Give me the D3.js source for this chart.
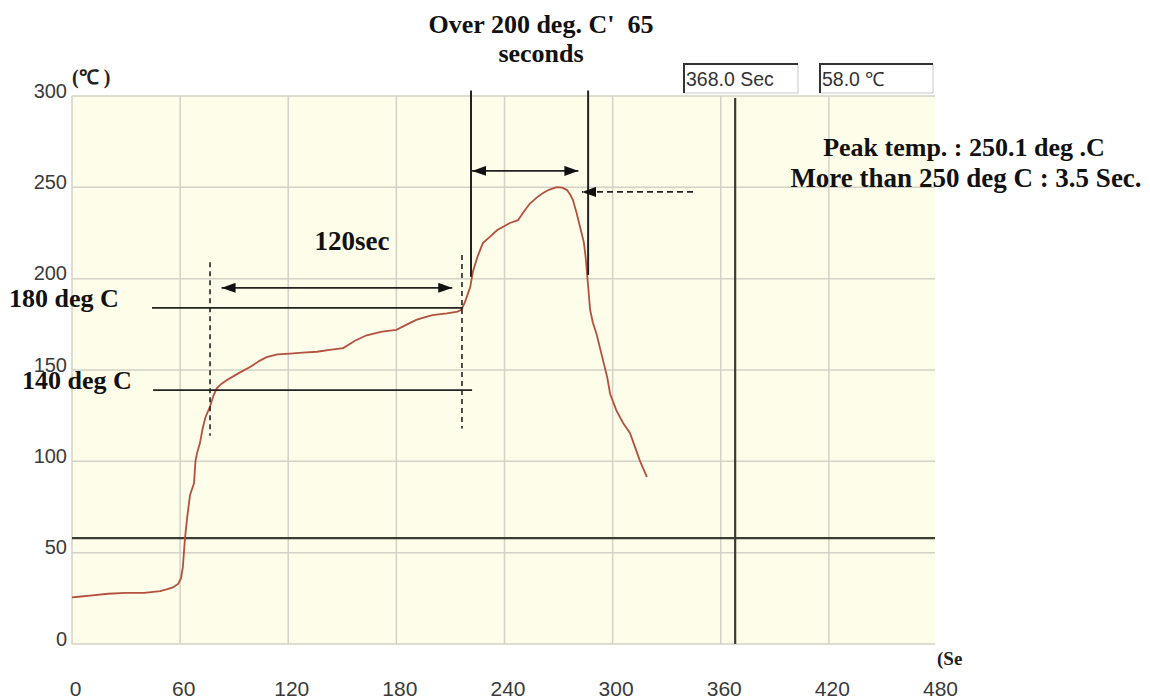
<!DOCTYPE html>
<html><head><meta charset="utf-8">
<script src="https://cdn.jsdelivr.net/npm/d3@7"></script>
<style>
html,body{margin:0;padding:0;background:#fff;}
svg{display:block;}
text{white-space:pre;}
</style></head>
<body>
<svg id="chart" width="1150" height="699"></svg>
<script>
// ---- data ----
const xTicks = [0, 60, 120, 180, 240, 300, 360, 420, 480];
const yTicks = [0, 50, 100, 150, 200, 250, 300];
const timeSec = [0,5,10,20,30,40,49,53,56,59,60.5,61.5,62.7,64,65.5,67.7,68.5,69.4,71,72.5,74,76.6,78.5,80.3,83,86,92,98.8,104,108,114,121,128,136,143,150.5,157,163.5,172,180,186,191,196,200,208,214,216,218,221,222.5,225,228,232,236,243,247.5,251,254,258,261.4,265,269,272,274.7,276.5,278,280,282,284,285,285.8,287.5,289,291,294,297,298.6,302,305.8,309.6,312,315,317,319];
const tempC = [25.5,26,26.5,27.5,28,28,29,30,31,33,36,42,58,70,81.6,88,100,104.6,110,118,124,130,136,140,142.5,144.5,148,151.6,155,157,158.5,159,159.5,160,161,162,166,169,171,172,175,177.4,179,180,181,182,183,187,195.5,204,212,219.5,223,226.6,230.5,232,237,241,244.5,246.9,248.8,250.1,249.8,248.5,246,243,236,228,220,212,203,183,176,170,158,146,137,128,121,115.5,109,100.7,96,91.5];
const cursorTime = 368.0;
const cursorTemp = 58.0;
// annotation lines [t1, v1, t2, v2]
const soakLines = [[44.4,184,217,184],[45,139,222,139]];
const dashedVerticals = [[76.6,209,76.6,114],[216.4,213,216.4,118]];
const reflowVerticals = [[221.4,303,221.4,201],[286.4,303,286.4,202]];
const doubleArrows = [[83,195,211,195],[222,259,281,259]];
const peakArrow = [344.6,247.5,283,247.5];

// ---- layout ----
const svg = d3.select("#chart");
const x = d3.scaleLinear().domain([0,480]).range([72,937]);
const y = d3.scaleLinear().domain([0,300]).range([644,96]);

svg.append("rect").attr("x",72).attr("y",96).attr("width",863).attr("height",548).attr("fill","#fdfde9");

// grid
const grid = svg.append("g").attr("stroke","#d2d2c6").attr("stroke-width",1.5);
grid.selectAll("line.v").data(xTicks.filter(d=>d<480)).join("line")
  .attr("x1",d=>x(d)).attr("x2",d=>x(d)).attr("y1",y(300)).attr("y2",y(0));
grid.selectAll("line.h").data(yTicks).join("line").attr("class","h")
  .attr("x1",x(0)).attr("x2",935).attr("y1",d=>y(d)).attr("y2",d=>y(d));

// axes (labels only)
const ya = svg.append("g").attr("transform","translate(67,0)")
  .call(d3.axisLeft(y).tickValues(yTicks).tickSize(0).tickPadding(0));
ya.select(".domain").remove();
ya.selectAll("text").attr("dy","0.05em").attr("x",0)
  .style("font-family","'Liberation Sans', Arial, sans-serif").style("font-size","20px").attr("fill","#3a3a3a");

const xa = svg.append("g").attr("transform","translate(3,644)")
  .call(d3.axisBottom(x).tickValues(xTicks).tickSize(0).tickPadding(0));
xa.select(".domain").remove();
xa.selectAll("text").attr("y",52).attr("dy","0")
  .style("font-family","'Liberation Sans', Arial, sans-serif").style("font-size","21px").attr("fill","#3a3a3a");

const serif = "'Liberation Serif', 'Times New Roman', serif";
svg.append("text").attr("x",72).attr("y",84).text("(℃ )")
  .style("font-family",serif).style("font-weight","bold").style("font-size","20px").attr("fill","#222");
svg.append("text").attr("x",937).attr("y",665).text("(Se")
  .style("font-family",serif).style("font-weight","bold").style("font-size","19px").attr("fill","#222");

// cursor lines
svg.append("line").attr("x1",x(0)).attr("x2",935).attr("y1",y(cursorTemp)).attr("y2",y(cursorTemp))
  .attr("stroke","#3a3d33").attr("stroke-width",2.2);
svg.append("line").attr("x1",x(cursorTime)).attr("x2",x(cursorTime)).attr("y1",y(300)+2).attr("y2",y(0))
  .attr("stroke","#3a3d33").attr("stroke-width",2.2);

// curve
svg.append("path").datum(timeSec.map((t,i)=>[t,tempC[i]]))
  .attr("d",d3.line().x(d=>x(d[0])).y(d=>y(d[1])))
  .attr("fill","none").attr("stroke","#b4503f").attr("stroke-width",1.8);

// arrow markers
const defs = svg.append("defs");
defs.append("marker").attr("id","ah").attr("viewBox","0 0 14 10").attr("refX",14).attr("refY",5)
  .attr("markerWidth",14).attr("markerHeight",10).attr("markerUnits","userSpaceOnUse").attr("orient","auto-start-reverse")
  .append("path").attr("d","M0,0L14,5L0,10Z").attr("fill","#111");

const ann = svg.append("g").attr("stroke","#222");
ann.selectAll("line.s").data(soakLines).join("line")
  .attr("x1",d=>x(d[0])).attr("y1",d=>y(d[1])).attr("x2",d=>x(d[2])).attr("y2",d=>y(d[3])).attr("stroke-width",1.6);
ann.selectAll("line.d").data(dashedVerticals).join("line").attr("class","d")
  .attr("x1",d=>x(d[0])).attr("y1",d=>y(d[1])).attr("x2",d=>x(d[2])).attr("y2",d=>y(d[3]))
  .attr("stroke-width",1.6).attr("stroke-dasharray","5,4");
ann.selectAll("line.r").data(reflowVerticals).join("line").attr("class","r")
  .attr("x1",d=>x(d[0])).attr("y1",d=>y(d[1])).attr("x2",d=>x(d[2])).attr("y2",d=>y(d[3])).attr("stroke-width",2);
ann.selectAll("line.a").data(doubleArrows).join("line").attr("class","a")
  .attr("x1",d=>x(d[0])).attr("y1",d=>y(d[1])).attr("x2",d=>x(d[2])).attr("y2",d=>y(d[3])).attr("stroke-width",1.8)
  .attr("marker-start","url(#ah)").attr("marker-end","url(#ah)");
ann.append("line").attr("x1",x(peakArrow[0])).attr("y1",y(peakArrow[1])).attr("x2",x(peakArrow[2])).attr("y2",y(peakArrow[3]))
  .attr("stroke-width",1.6).attr("stroke-dasharray","6,4").attr("marker-end","url(#ah)");

// annotation texts
function label(tx,ty,str,size,anchor){
  return svg.append("text").attr("x",tx).attr("y",ty).text(str).attr("text-anchor",anchor||"start")
    .style("font-family",serif).style("font-weight","bold").style("font-size",size+"px").attr("fill","#111");
}
label(541,33,"Over 200 deg. C'  65",26,"middle");
label(541,62,"seconds",26,"middle");
label(352,250,"120sec",27,"middle");
label(9,307,"180 deg C",26);
label(22,389,"140 deg C",26);
label(964,156,"Peak temp. : 250.1 deg .C",26,"middle");
label(966,187,"More than 250 deg C : 3.5 Sec.",27,"middle");

// readout boxes
function box(bx,bw,str){
  const g = svg.append("g");
  g.append("rect").attr("x",bx).attr("y",64).attr("width",bw).attr("height",29).attr("fill","#fff")
    .attr("stroke","#c8c8c8").attr("stroke-width",1);
  g.append("path").attr("d",`M${bx},93V64H${bx+bw}`).attr("fill","none").attr("stroke","#333").attr("stroke-width",2);
  g.append("text").attr("x",bx+2).attr("y",86).text(str)
    .style("font-family","'Liberation Sans', Arial, sans-serif").style("font-size","19.5px").attr("fill","#333");
}
box(684,114,cursorTime.toFixed(1)+" Sec");
box(820,113,cursorTemp.toFixed(1)+" ℃");
</script>
</body></html>
